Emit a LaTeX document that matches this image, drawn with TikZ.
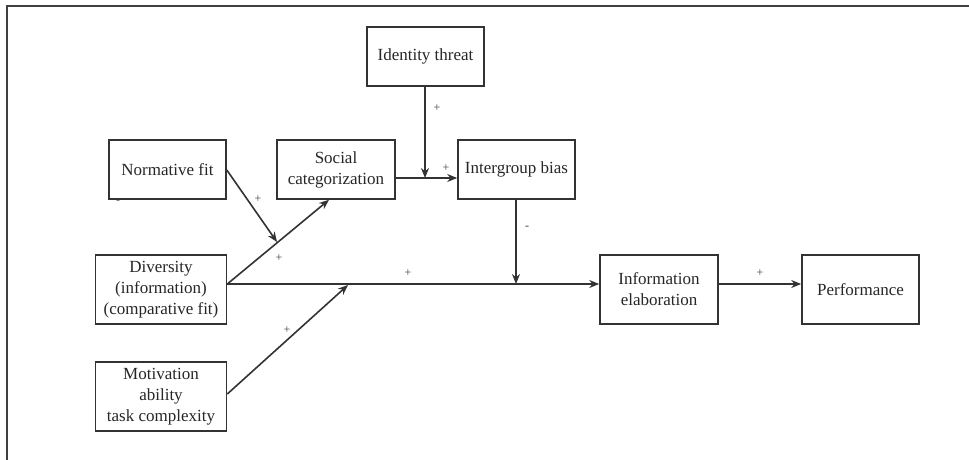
\documentclass[tikz,border=0pt]{standalone}
\usepackage{fontspec}
\setmainfont{Liberation Serif}
\usetikzlibrary{arrows.meta}
\begin{document}
\begin{tikzpicture}[x=1pt,y=-1pt,
  box/.style={draw=black!80,line width=1.6pt,rectangle,align=center,inner sep=0pt,
    font=\fontsize{17}{21}\selectfont,text=black!85},
  conn/.style={draw=black!80,line width=1.6pt},
  arr/.style={conn,-{Stealth[length=10pt,width=8pt]}},
  sign/.style={font=\fontsize{12}{14}\selectfont,text=black!75,inner sep=0pt}]
\useasboundingbox (0,0) rectangle (969,460);
\draw[draw=black!75,line width=1.3pt] (969,6) -- (7,6) -- (7,460);
\node[box,minimum width=117pt,minimum height=59pt] (it) at (425.5,56.5) {Identity threat};
\node[box,minimum width=117pt,minimum height=59pt] (nf) at (167.5,169.5) {Normative fit};
\node[box,minimum width=118pt,minimum height=59pt] (sc) at (336,169.5) {Social\\categorization};
\node[box,minimum width=117pt,minimum height=59pt] (ib) at (516.5,169.5) {Intergroup bias};
\node[box,minimum width=131pt,minimum height=69pt] (dv) at (161,289.5) {Diversity\\(information)\\(comparative fit)};
\node[box,minimum width=131pt,minimum height=69pt] (mo) at (161,396.5) {Motivation\\ability\\task complexity};
\node[box,minimum width=118pt,minimum height=69pt] (ie) at (659,289.5) {Information\\elaboration};
\node[box,minimum width=117pt,minimum height=69pt] (pf) at (860.5,289.5) {Performance};
\coordinate (j1) at (277,242);
\coordinate (j2) at (348,285);
\coordinate (j3) at (425,178);
\coordinate (j4) at (516,284);
% Diversity -> Social categorization
\draw[arr] ([yshift=5.5pt]dv.east) -- ([xshift=-7pt]sc.south);
% Normative fit -> moderating
\draw[arr] ([yshift=-0.5pt]nf.east) -- (j1);
% Diversity -> Information elaboration
\draw[arr] ([yshift=5.5pt]dv.east) -- ([yshift=5.5pt]ie.west);
% Motivation -> moderating
\draw[arr] ([yshift=2.5pt]mo.east) -- (j2);
% Social cat -> Intergroup bias
\draw[arr] ([yshift=-8.5pt]sc.east) -- ([yshift=-8.5pt]ib.west);
% Identity threat -> moderating
\draw[arr] ([xshift=-0.5pt]it.south) -- (j3);
% Intergroup bias -> moderating
\draw[arr] ([xshift=-0.5pt]ib.south) -- (j4);
% Info elaboration -> Performance
\draw[arr] ([yshift=5.5pt]ie.east) -- ([yshift=5.5pt]pf.west);
% signs
\node[sign] (s1) at (258,199) {+};
\node[sign] (s2) at (279,258) {+};
\node[sign] (s3) at (408,273) {+};
\node[sign] (s4) at (287,330) {+};
\node[sign] (s5) at (446,168) {+};
\node[sign] (s6) at (437,108) {+};
\node[sign] (s7) at (527,228) {-};
\node[sign] (s8) at (760,273) {+};
\node[sign] (s9) at (118,202) {-};
\end{tikzpicture}
\end{document}
